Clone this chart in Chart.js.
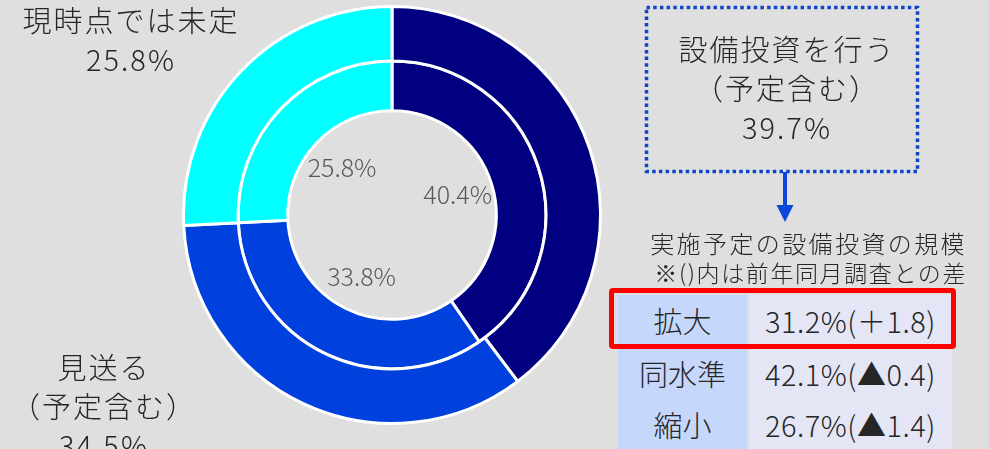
<!DOCTYPE html>
<html lang="ja">
<head>
<meta charset="utf-8">
<script src="https://cdn.jsdelivr.net/npm/chart.js@4.4.1/dist/chart.umd.min.js"></script>
<style>
  html, body {
    margin: 0;
    padding: 0;
    width: 989px;
    height: 449px;
    overflow: hidden;
    background: #dfdfdf;
    font-family: "Noto Sans CJK JP", "Noto Sans", sans-serif;
    font-weight: 300;
    color: #262626;
  }
  #chart_box {
    position: absolute;
    left: 182px;
    top: 5px;
    width: 420px;
    height: 420px;
  }
  .label {
    position: absolute;
    text-align: center;
    font-size: 29px;
    letter-spacing: 2px;
    line-height: 39px;
    white-space: nowrap;
  }
  .note {
    position: absolute;
    white-space: nowrap;
    text-align: right;
  }
  .cell {
    position: absolute;
    height: 51px;
    line-height: 51px;
    font-size: 29px;
    text-align: center;
    white-space: nowrap;
  }
  #red_frame {
    position: absolute;
    left: 609px;
    top: 288px;
    width: 347px;
    height: 61px;
    box-sizing: border-box;
    border: 5px solid #ff0000;
    border-radius: 4px;
  }
  svg { position: absolute; left: 0; top: 0; }
</style>
</head>
<body>
<div id="chart_box"><canvas id="myChart"></canvas></div>
<svg width="989" height="449">
  <rect x="646.5" y="7.5" width="271" height="164" fill="none" stroke="#0d45c8" stroke-width="3.5" stroke-dasharray="3.5 3.2"/>
  <line x1="785" y1="172" x2="785" y2="206" stroke="#0a46dc" stroke-width="4"/>
  <polygon points="776.5,205 793.5,205 785,222" fill="#0a46dc"/>
</svg>
<div id="labels"></div>
<div id="table"></div>
<div id="red_frame"></div>

<script>
// 今回調査（外側）と前回調査（内側）
const categoryLines = [['設備投資を行う', '（予定含む）'], ['見送る', '（予定含む）'], ['現時点では未定']]
const currentValues = [39.7, 34.5, 25.8]
const previousValues = [40.4, 33.8, 25.8]
const ringColors = ['#000080', '#0040dd', '#00ffff']

// 実施予定の設備投資の規模
const scaleLabels = ['拡大', '同水準', '縮小']
const scaleValues = [31.2, 42.1, 26.7]
const scaleDiffs = ['＋1.8', '▲0.4', '▲1.4']

// outer labels (html)
let labelPlaces = [
    {left: 652, top: 29, width: 270},
    {left: -32, top: 347, width: 272},
    {left: -4, top: 0, width: 270}
]
let labelsDiv = document.querySelector('#labels')
categoryLines.forEach((lines, i) => {
    let el = document.createElement('div')
    el.className = 'label'
    el.style.left = labelPlaces[i].left + 'px'
    el.style.top = labelPlaces[i].top + 'px'
    el.style.width = labelPlaces[i].width + 'px'
    el.innerHTML = lines.concat([currentValues[i].toFixed(1) + '%']).join('<br>')
    labelsDiv.appendChild(el)
})

let note1 = document.createElement('div')
note1.className = 'note'
note1.style.top = '225px'
note1.style.right = '22px'
note1.style.fontSize = '24px'
note1.style.letterSpacing = '2.4px'
note1.innerText = '実施予定の設備投資の規模'
labelsDiv.appendChild(note1)

let note2 = document.createElement('div')
note2.className = 'note'
note2.style.top = '255px'
note2.style.right = '22px'
note2.style.fontSize = '23px'
note2.style.letterSpacing = '1.6px'
note2.innerText = '※()内は前年同月調査との差'
labelsDiv.appendChild(note2)

// table
let tableDiv = document.querySelector('#table')
let rowTops = [295, 348, 399]
scaleLabels.forEach((name, i) => {
    let c1 = document.createElement('div')
    c1.className = 'cell'
    c1.style.left = '618px'
    c1.style.width = '129px'
    c1.style.top = rowTops[i] + 'px'
    c1.style.background = '#c5d7fb'
    c1.innerText = name
    tableDiv.appendChild(c1)

    let c2 = document.createElement('div')
    c2.className = 'cell'
    c2.style.left = '749px'
    c2.style.width = '203px'
    c2.style.top = rowTops[i] + 'px'
    c2.style.background = '#e4e6f6'
    c2.style.letterSpacing = '0.5px'
    c2.innerText = scaleValues[i].toFixed(1) + '%(' + scaleDiffs[i] + ')'
    tableDiv.appendChild(c2)
})

// inner ring values drawn inside the hole
const innerValueLabels = {
    id: 'innerValueLabels',
    afterDatasetsDraw(chart) {
        let meta = chart.getDatasetMeta(1)
        let ctx = chart.ctx
        ctx.save()
        ctx.font = '300 25px "Noto Sans CJK JP", sans-serif'
        ctx.fillStyle = '#595959'
        ctx.textAlign = 'center'
        ctx.textBaseline = 'middle'
        meta.data.forEach((arc, i) => {
            let mid = (arc.startAngle + arc.endAngle) / 2
            let r = arc.innerRadius * 0.66
            ctx.fillText(previousValues[i].toFixed(1) + '%', arc.x + Math.cos(mid) * r, arc.y + Math.sin(mid) * r)
        })
        ctx.restore()
    }
}

let ctx = document.getElementById('myChart').getContext('2d')
let chart = new Chart(ctx, {
    type: 'doughnut',
    data: {
        labels: categoryLines.map(l => l.join('')),
        datasets: [{
            data: currentValues,
            backgroundColor: ringColors,
            borderColor: '#ffffff',
            borderWidth: 3,
            weight: 1.1
        }, {
            data: previousValues,
            backgroundColor: ringColors,
            borderColor: '#ffffff',
            borderWidth: 3,
            weight: 1
        }]
    },
    options: {
        responsive: true,
        maintainAspectRatio: false,
        animation: false,
        cutout: '50%',
        layout: { padding: 0 },
        plugins: {
            legend: { display: false },
            tooltip: { enabled: false }
        }
    },
    plugins: [innerValueLabels]
})
</script>
</body>
</html>
